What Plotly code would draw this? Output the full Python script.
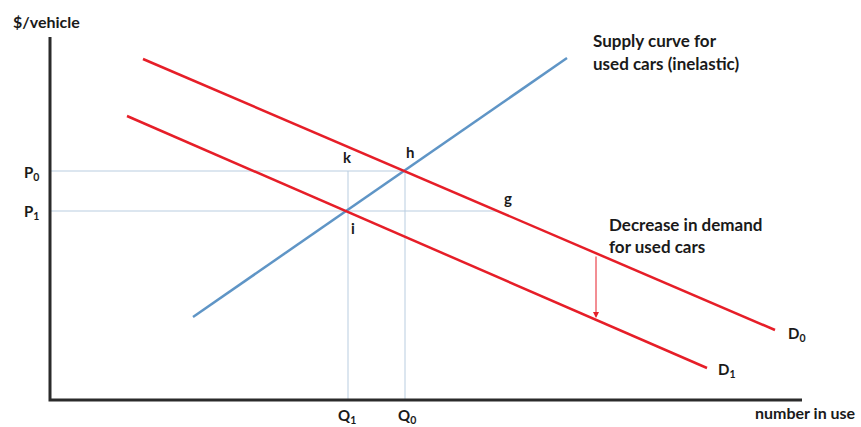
import plotly.graph_objects as go

# Coordinates: quantity (x) and price (y) in diagram units, origin at the axes corner
d0_q = [93, 725]
d0_p = [341, 70]
d1_q = [77, 657]
d1_p = [284, 32]
s_q = [143, 517]
s_p = [83, 342]

q0, p0 = 355, 229   # point h
q1, p1 = 298, 189   # point i
g_q = 447           # point g on D0 at P1

arrow_q = 546
arrow_p = [145, 82]

x_axis_len = 752
y_axis_len = 363

RED = "#e61e28"
BLUE = "#5f95c6"
GUIDE = "#b9cde0"
FONT = "Lato"

fig = go.Figure()

# guide lines
fig.add_trace(go.Scatter(x=[0, q0], y=[p0, p0], mode="lines", line=dict(color=GUIDE, width=1)))
fig.add_trace(go.Scatter(x=[0, g_q], y=[p1, p1], mode="lines", line=dict(color=GUIDE, width=1)))
fig.add_trace(go.Scatter(x=[q1, q1], y=[0, p0], mode="lines", line=dict(color=GUIDE, width=1)))
fig.add_trace(go.Scatter(x=[q0, q0], y=[0, p0], mode="lines", line=dict(color=GUIDE, width=1)))

# curves
fig.add_trace(go.Scatter(x=s_q, y=s_p, mode="lines", line=dict(color=BLUE, width=2.5)))
fig.add_trace(go.Scatter(x=d0_q, y=d0_p, mode="lines", line=dict(color=RED, width=2.5)))
fig.add_trace(go.Scatter(x=d1_q, y=d1_p, mode="lines", line=dict(color=RED, width=2.5)))

# axes
fig.add_trace(go.Scatter(x=[0, 0, x_axis_len], y=[y_axis_len, 0, 0], mode="lines",
                         line=dict(color="#2b2b2b", width=3)))

# arrow showing decrease in demand
fig.add_annotation(x=arrow_q, y=arrow_p[1], ax=arrow_q, ay=arrow_p[0], xref="x", yref="y",
                   axref="x", ayref="y", text="", showarrow=True, arrowhead=2,
                   arrowsize=1.2, arrowwidth=1, arrowcolor=RED)

def label(x, y, text, xanchor="center", size=17):
    fig.add_annotation(x=x, y=y, text=text, showarrow=False, xanchor=xanchor, yanchor="middle",
                       font=dict(family=FONT, size=size, color="#1a1a1a", weight="bold"))

label(-39, 379, "$/vehicle", xanchor="left", size=16)
label(-19, p0 - 2, "P<sub>0</sub>", size=15)
label(-19, p1 - 1, "P<sub>1</sub>", size=15)
label(297, 243, "k", size=15)
label(360, 248, "h", size=15)
label(303, 172, "i", size=15)
label(458, 202, "g", size=15)
label(541, 360, "Supply curve for", xanchor="left")
label(541, 337, "used cars (inelastic)", xanchor="left")
label(557, 176, "Decrease in demand", xanchor="left")
label(557, 154, "for used cars", xanchor="left")
label(747, 66, "D<sub>0</sub>", size=15)
label(677, 30, "D<sub>1</sub>", size=15)
label(297, -16, "Q<sub>1</sub>", size=15)
label(357, -16, "Q<sub>0</sub>", size=15)
label(703, -12, "number in use", xanchor="left", size=16)

fig.update_layout(
    width=861, height=427,
    margin=dict(l=0, r=0, t=0, b=0),
    paper_bgcolor="white", plot_bgcolor="white",
    showlegend=False,
    xaxis=dict(range=[-50, 811], visible=False, fixedrange=True),
    yaxis=dict(range=[-27, 400], visible=False, fixedrange=True),
)

fig.write_html("out.html", config={"displayModeBar": False},
               post_script="document.body.style.margin='0';")
